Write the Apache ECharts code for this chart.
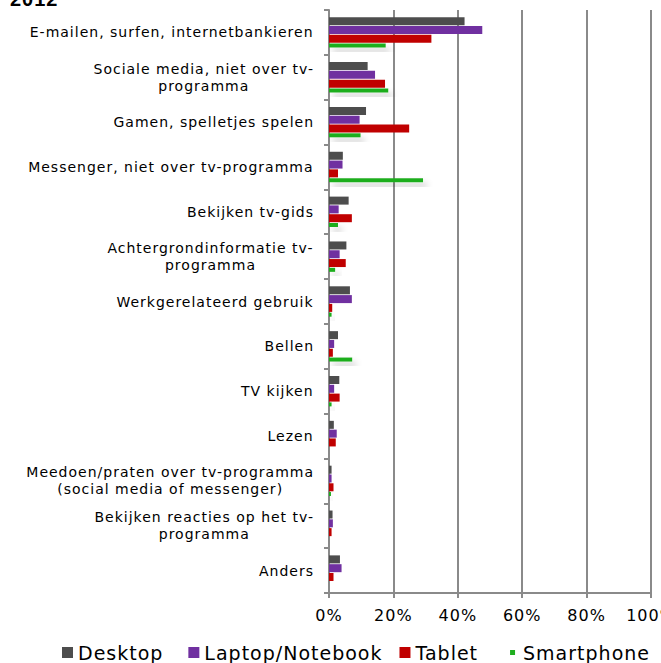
<!DOCTYPE html>
<html>
<head>
<meta charset="utf-8">
<script src="https://cdn.jsdelivr.net/npm/echarts@6/dist/echarts.min.js"></script>
<style>
html, body { margin: 0; padding: 0; background: #fff; }
#chart { width: 661px; height: 663px; }
#chart text { letter-spacing: 1px; }
</style>
</head>
<body>
<div id="chart"></div>
<script>
// categories, top to bottom
var categories = [
    "E-mailen, surfen, internetbankieren",
    "Sociale media, niet over tv-\nprogramma",
    "Gamen, spelletjes spelen",
    "Messenger, niet over tv-programma",
    "Bekijken tv-gids",
    "Achtergrondinformatie tv-\nprogramma",
    "Werkgerelateerd gebruik",
    "Bellen",
    "TV kijken",
    "Lezen",
    "Meedoen/praten over tv-programma\n(social media of messenger)",
    "Bekijken reacties op het tv-\nprogramma",
    "Anders"
];
var seriesNames = ["Desktop", "Laptop/Notebook", "Tablet", "Smartphone"];
var desktop    = [42.1, 12.0, 11.5, 4.3, 6.1, 5.4, 6.5, 2.8, 3.2, 1.5, 0.8, 1.1, 3.4];
var laptop     = [47.6, 14.3, 9.5, 4.2, 3.0, 3.3, 7.1, 1.6, 1.6, 2.4, 0.8, 1.2, 3.9];
var tablet     = [31.8, 17.4, 24.9, 2.8, 7.1, 5.2, 1.0, 1.2, 3.3, 2.1, 1.4, 0.8, 1.4];
var smartphone = [17.6, 18.4, 9.8, 29.2, 2.8, 1.9, 0.8, 7.2, 0.8, 0, 0.6, 0, 0];
var xTicks = [0, 20, 40, 60, 80, 100];

var colors = ["#4d4d4d", "#7030a0", "#c00000", "#1fae1f"];
var font = "DejaVu Sans";

var chart = echarts.init(document.getElementById("chart"), null, { renderer: "svg" });

// the css letter-spacing is not measured by echarts, so pad the
// centred label lines on the right by half the extra width
var labelRich = {};
for (var p = 0; p <= 40; p++) {
    labelRich["p" + p] = {
        align: "center", fontSize: 14, fontFamily: font, color: "#000",
        lineHeight: 17, padding: [0, p, 0, 0]
    };
}

function barSeries(name, data, idx, width) {
    var s = {
        name: name,
        type: "bar",
        data: data,
        barWidth: width,
        barGap: "10%",
        barCategoryGap: "30%",
        itemStyle: { color: colors[idx] }
    };
    if (idx === 3) {
        s.itemStyle.shadowColor = "rgba(0,0,0,0.22)";
        s.itemStyle.shadowBlur = 6;
        s.itemStyle.shadowOffsetX = 4;
        s.itemStyle.shadowOffsetY = 5;
    }
    return s;
}

var legendData = seriesNames.map(function (name, i) {
    var item = { name: name, itemStyle: { shadowBlur: 0, shadowColor: "transparent" } };
    if (i === 3) {
        item.itemStyle.borderColor = "#fff";
        item.itemStyle.borderWidth = 6;
    }
    return item;
});

var option = {
    animation: false,
    backgroundColor: "#fff",
    title: {
        text: "2012",
        left: 10,
        top: -11,
        padding: 0,
        textStyle: { fontSize: 20, fontWeight: "bold", fontFamily: "Liberation Sans", color: "#000" }
    },
    grid: { left: 329, right: 10, top: 10, bottom: 70, containLabel: false, outerBoundsMode: "none" },
    legend: {
        left: 62,
        top: 643,
        padding: 0,
        itemWidth: 11,
        itemHeight: 11,
        itemGap: 32,
        icon: "rect",
        textStyle: { fontSize: 19, fontFamily: font, color: "#000" },
        data: legendData
    },
    xAxis: {
        type: "value",
        min: xTicks[0],
        max: xTicks[xTicks.length - 1],
        interval: xTicks[1] - xTicks[0],
        axisLine: { show: true, lineStyle: { color: "#8a8a8a", width: 2 } },
        axisTick: { show: true, length: 5, lineStyle: { color: "#8a8a8a", width: 2 } },
        axisLabel: { formatter: "{value}%", fontSize: 16, fontFamily: font, color: "#000", margin: 14 },
        splitLine: { show: true, lineStyle: { color: "#8a8a8a", width: 2 } }
    },
    yAxis: {
        type: "category",
        inverse: true,
        data: categories,
        axisLine: { show: true, lineStyle: { color: "#8a8a8a", width: 2 } },
        axisTick: { show: true, length: 5, lineStyle: { color: "#8a8a8a", width: 2 } },
        axisLabel: {
            margin: 15,
            formatter: function (v) {
                var lines = v.split("\n");
                var n = 0;
                lines.forEach(function (l) { n = Math.max(n, l.length); });
                var key = "p" + Math.min(40, Math.round(n / 2));
                return lines.map(function (l) { return "{" + key + "|" + l + "}"; }).join("\n");
            },
            rich: labelRich
        }
    },
    series: [
        barSeries(seriesNames[0], desktop, 0, 8),
        barSeries(seriesNames[1], laptop, 1, 8),
        barSeries(seriesNames[2], tablet, 2, 8),
        barSeries(seriesNames[3], smartphone, 3, 4)
    ]
};

chart.setOption(option);
</script>
</body>
</html>
